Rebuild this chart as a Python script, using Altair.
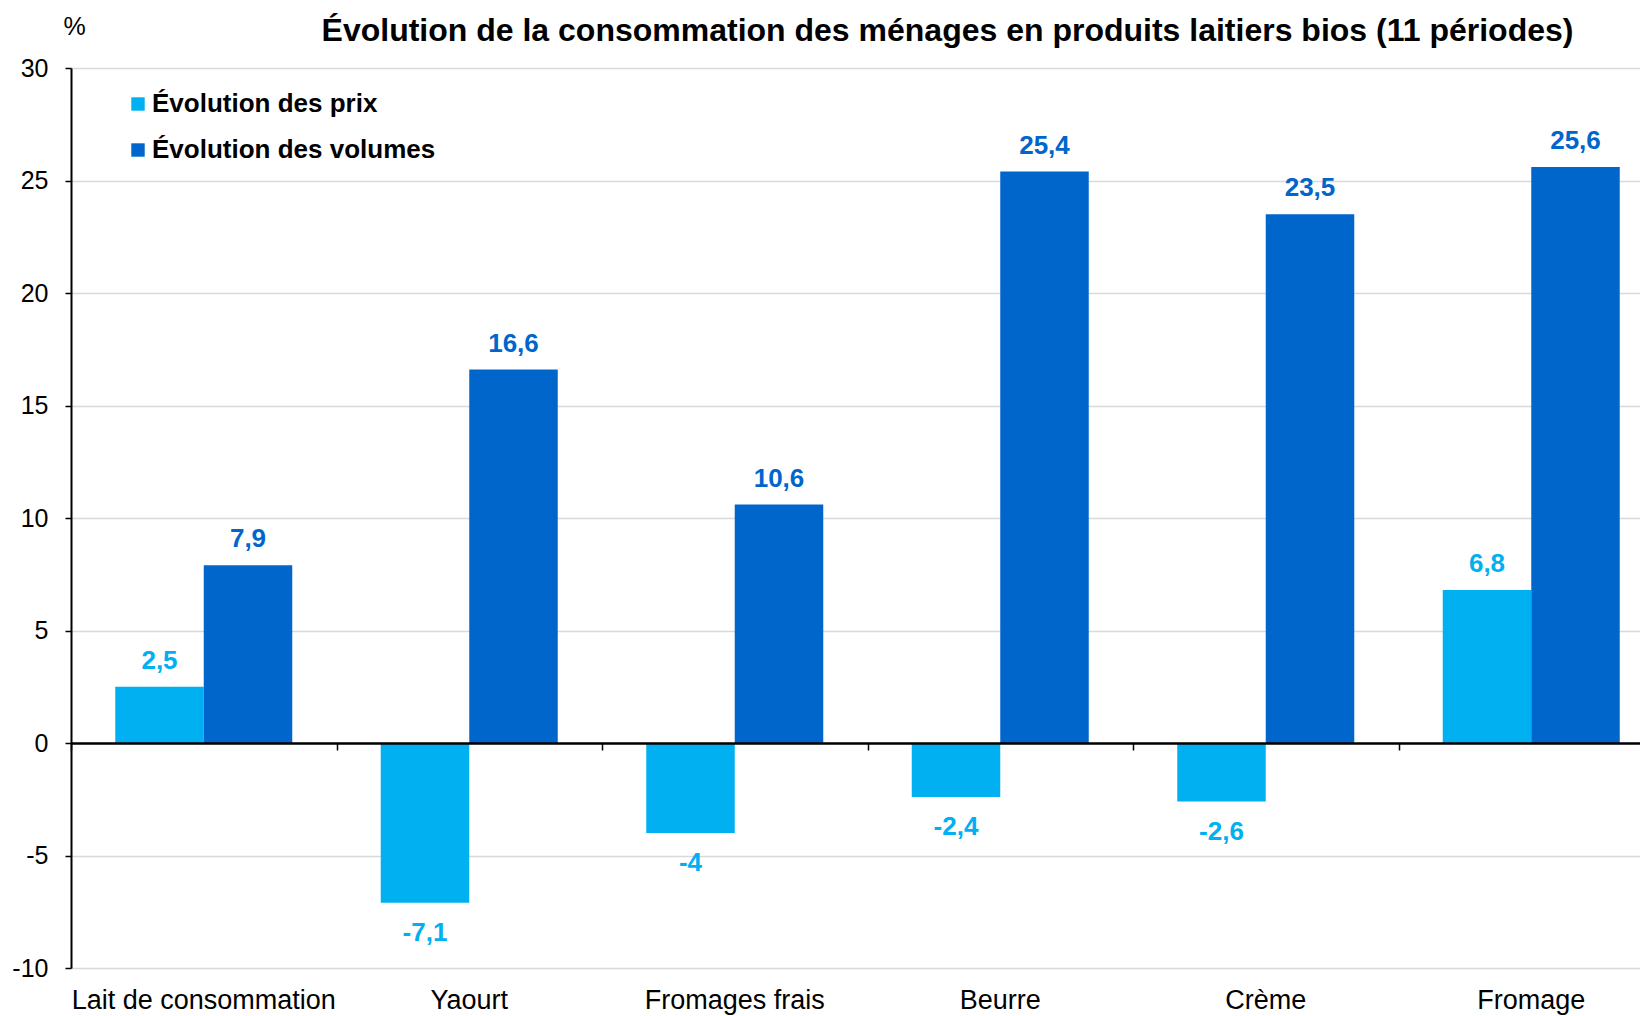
import altair as alt
import pandas as pd

categories = ["Lait de consommation", "Yaourt", "Fromages frais", "Beurre", "Crème", "Fromage"]
series_names = ["Évolution des prix", "Évolution des volumes"]
prix = [2.5, -7.1, -4.0, -2.4, -2.6, 6.8]
volumes = [7.9, 16.6, 10.6, 25.4, 23.5, 25.6]
colors = ["#00B0F0", "#0066CC"]
y_ticks = [-10, -5, 0, 5, 10, 15, 20, 25, 30]

rows = []
for name, vals in zip(series_names, [prix, volumes]):
    for c, v in zip(categories, vals):
        rows.append({"cat": c, "serie": name, "value": v,
                     "label": f"{v:g}".replace(".", ",")})
df = pd.DataFrame(rows)

W, H = 1569, 900
BAND_SPAN = 1593  # six category steps; the last one runs past the right edge as in the source
FONT = "Liberation Sans"
ymin, ymax = -10, 30
zero_offset = -round(H * (0 - ymin) / (ymax - ymin))

x_scale = alt.Scale(domain=categories, range=[0, BAND_SPAN], paddingInner=0, paddingOuter=0)
xo_scale = alt.Scale(domain=series_names, paddingInner=0, paddingOuter=0.5)
y_scale = alt.Scale(domain=[ymin, ymax], nice=False, zero=False)
color_scale = alt.Scale(domain=series_names, range=colors)

base = alt.Chart(df)

bars = base.mark_bar().encode(
    x=alt.X("cat:N", scale=x_scale, sort=categories,
            axis=alt.Axis(orient="bottom", title=None, domain=False, ticks=False, grid=False,
                          labelFontSize=27, labelFont=FONT, labelColor="#000000",
                          labelPadding=19, labelAngle=0, labelLimit=0)),
    xOffset=alt.XOffset("serie:N", scale=xo_scale, sort=series_names),
    y=alt.Y("value:Q", scale=y_scale,
            axis=alt.Axis(values=y_ticks, title="%", titleAngle=0, titleX=3, titleY=-42,
                          titleAlign="center", titleBaseline="middle", titleFontSize=25,
                          titleFontWeight="normal", titleFont=FONT, titleColor="#000000",
                          labelFontSize=25, labelFont=FONT, labelColor="#000000",
                          labelExpr="toString(datum.value)",
                          labelPadding=17, tickSize=6, tickColor="#000000", tickWidth=1.5,
                          domainColor="#000000", domainWidth=2,
                          grid=True, gridColor="#D9D9D9", gridWidth=1.5)),
    color=alt.Color("serie:N", scale=color_scale, sort=series_names,
                    legend=alt.Legend(orient="none", legendX=54, legendY=23, title=None,
                                      symbolType="square", symbolSize=180, symbolStrokeWidth=0,
                                      labelFontSize=26, labelFontWeight="bold", labelFont=FONT,
                                      labelColor="#000000", labelOffset=1, rowPadding=20,
                                      labelLimit=0, padding=0)),
)

text_pos = base.transform_filter("datum.value >= 0").mark_text(
    baseline="alphabetic", dy=-18, fontSize=26, fontWeight="bold", font=FONT
).encode(
    x=alt.X("cat:N", scale=x_scale, sort=categories,
            axis=alt.Axis(orient="bottom", title=None, labels=False, grid=False,
                          domain=True, domainColor="#000000", domainWidth=2.5,
                          ticks=True, tickBand="extent", tickSize=7, tickColor="#000000",
                          tickWidth=1.5, offset=zero_offset, zindex=1)),
    xOffset=alt.XOffset("serie:N", scale=xo_scale, sort=series_names),
    y=alt.Y("value:Q", scale=y_scale),
    text="label:N",
    color=alt.Color("serie:N", scale=color_scale, sort=series_names, legend=None),
)

text_neg = base.transform_filter("datum.value < 0").mark_text(
    baseline="top", dy=17, fontSize=26, fontWeight="bold", font=FONT
).encode(
    x=alt.X("cat:N", scale=x_scale, sort=categories, axis=None),
    xOffset=alt.XOffset("serie:N", scale=xo_scale, sort=series_names),
    y=alt.Y("value:Q", scale=y_scale),
    text="label:N",
    color=alt.Color("serie:N", scale=color_scale, sort=series_names, legend=None),
)

chart = alt.layer(bars, text_pos, text_neg).resolve_axis(x="independent").properties(
    width=W, height=H,
    autosize=alt.AutoSizeParams(type="none"),
    padding={"left": 63, "top": 60, "right": 0, "bottom": 48},
    title=alt.TitleParams(
        "Évolution de la consommation des ménages en produits laitiers bios (11 périodes)",
        fontSize=32, fontWeight="bold", font=FONT, color="#000000",
        anchor="middle", frame="group", dx=92, offset=-34),
).configure_view(stroke=None)

chart.save("out.html", embed_options={"renderer": "svg", "actions": False})
